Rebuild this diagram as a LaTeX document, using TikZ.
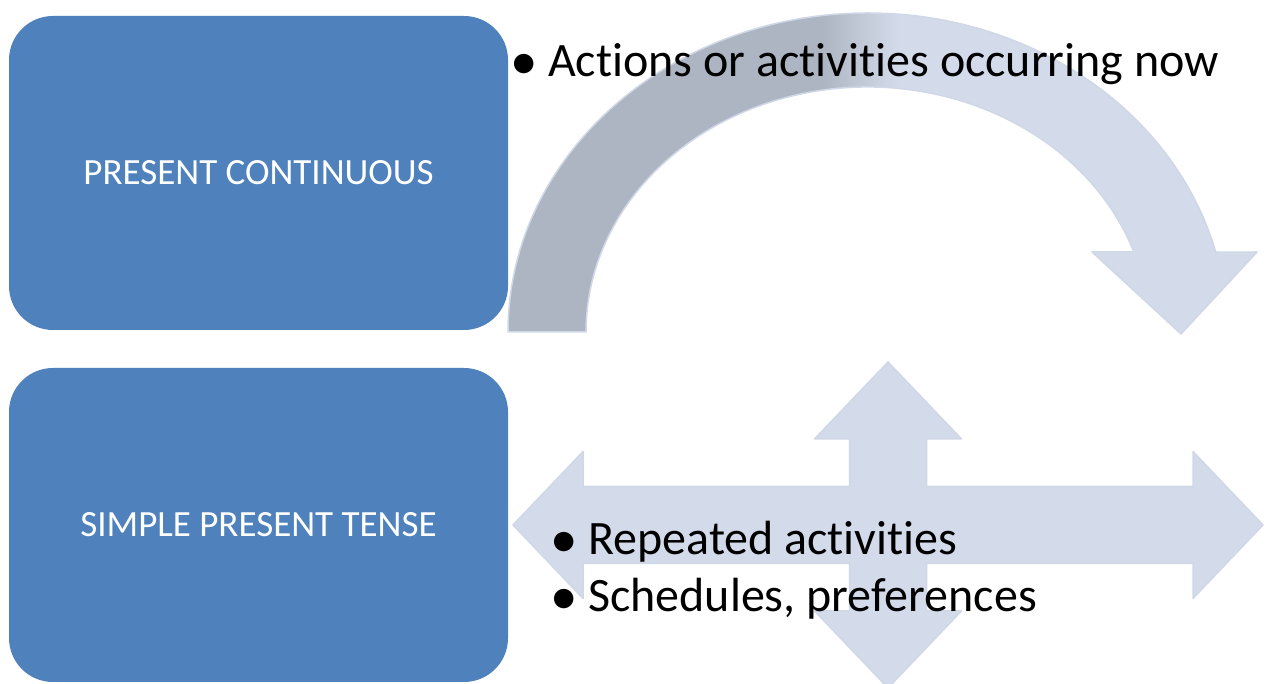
\documentclass[tikz,border=0pt]{standalone}
\usepackage{fontspec}
\setmainfont{Carlito}[RawFeature=-liga]
\usepackage{tikz}

\definecolor{tenseblue}{HTML}{4F81BD}
\definecolor{arcblue}{HTML}{D3DBEA}
\definecolor{arcgray}{HTML}{AEB5C2}
\definecolor{arcedge}{HTML}{D0D8E8}
\pgfdeclarehorizontalshading{arcfade}{100bp}{color(0bp)=(arcgray); color(46bp)=(arcgray); color(51bp)=(arcblue); color(100bp)=(arcblue)}

\newcommand{\dotmark}{\makebox[38pt][l]{\fontsize{55}{50}\selectfont\raisebox{-3pt}{•}}}

\tikzstyle{tense} = [rectangle,
	rounded corners=44pt,
	minimum width=499pt,
	minimum height=314pt,
	text centered,
	fill=tenseblue,
	text=white,
	font=\fontsize{37}{44}\selectfont
	]
\tikzstyle{point} = [anchor=base west,
	inner sep=0pt,
	font=\fontsize{48}{57}\selectfont
	]
\tikzstyle{bigarrow} = [fill=arcblue,
	draw=arcedge,
	line width=1.5pt,
	line join=round
	]

\begin{document}
\begin{tikzpicture}[x=1pt, y=1pt, node distance=352pt]

\path[use as bounding box, fill=white] (0,0) rectangle (1265,684);

% curved arrow over the top
\shadedraw[bigarrow, shading=arcfade] (508,352) arc[start angle=180, end angle=14.5, x radius=359.6, y radius=319]
	-- (1257,432) -- (1181,350) -- (1092,432) -- (1133.8,432)
	arc[start angle=19.06, end angle=180, x radius=281.6, y radius=245] -- cycle;

% four way arrow
\filldraw[bigarrow, shift={(888,159)}] (-375,0) -- (-305,73.5) -- (-305,38.5) -- (-38.5,38.5)
	-- (-38.5,86) -- (-73.5,86) -- (0,163) -- (73.5,86) -- (38.5,86) -- (38.5,38.5)
	-- (305,38.5) -- (305,73.5) -- (375,0) -- (305,-73.5) -- (305,-38.5) -- (38.5,-38.5)
	-- (38.5,-86) -- (73.5,-86) -- (0,-163) -- (-73.5,-86) -- (-38.5,-86) -- (-38.5,-38.5)
	-- (-305,-38.5) -- (-305,-73.5) -- cycle;

\node (pCont) [tense] at (258.5,511) {PRESENT CONTINUOUS};
\node (sPres) [tense, below of=pCont] {SIMPLE PRESENT TENSE};

\node (tNow) [point] at (510,607) {\dotmark Actions or activities occurring now};
\node (tRep) [point] at (550,129) {\dotmark Repeated activities};
\node (tSch) [point] at (550,72) {\dotmark Schedules, preferences};

\end{tikzpicture}
\end{document}
